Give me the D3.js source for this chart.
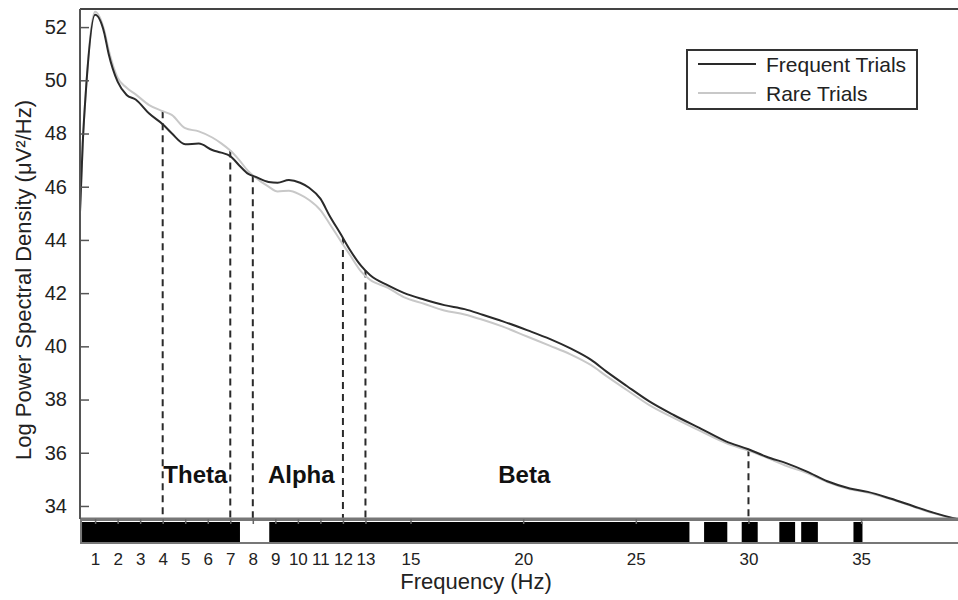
<!DOCTYPE html>
<html>
<head>
<meta charset="utf-8">
<script src="https://cdn.jsdelivr.net/npm/d3@7"></script>
<style>
  html, body { margin: 0; padding: 0; background: #fff; }
  svg { display: block; font-family: Arial, "Liberation Sans", Helvetica, sans-serif; }
</style>
</head>
<body>
<svg id="chart" width="958" height="600"></svg>
<script>
// ---------------- DATA ----------------
const frequencyHz = [0.33, 0.45, 0.6, 1.0, 1.4, 1.6, 2.0, 2.4, 2.8, 3.4, 4.0, 4.4, 5.0, 5.6, 6.2, 6.6, 7.0, 7.4, 7.8, 8.1, 8.7, 9.1, 9.6, 10.1, 10.5, 11.0, 11.4, 11.9, 12.3, 12.8, 13.2, 14.0, 14.7, 15.6, 16.5, 17.4, 18.2, 19.1, 20.2, 21.2, 22.1, 23.0, 23.7, 24.6, 25.6, 26.7, 27.9, 29.0, 30.0, 30.8, 31.7, 32.6, 33.5, 34.5, 35.3, 36.3, 37.3, 38.2, 39.1, 39.3];
const frequentTrials = [45.05, 47.6, 49.7, 52.46, 51.8, 51.0, 49.95, 49.45, 49.28, 48.75, 48.35, 48.01, 47.6, 47.62, 47.38, 47.28, 47.15, 46.8, 46.48, 46.38, 46.18, 46.15, 46.25, 46.15, 45.96, 45.55, 44.92, 44.22, 43.64, 43.03, 42.68, 42.29, 42.01, 41.76, 41.55, 41.4, 41.19, 40.94, 40.6, 40.27, 39.92, 39.5, 39.05, 38.51, 37.93, 37.41, 36.9, 36.43, 36.13, 35.85, 35.6, 35.29, 34.93, 34.66, 34.53, 34.28, 34.0, 33.75, 33.54, 33.5];
const rareTrials = [45.0, 47.6, 49.7, 52.58, 51.9, 51.15, 50.1, 49.72, 49.47, 49.07, 48.84, 48.7, 48.2, 48.08, 47.85, 47.63, 47.36, 47.0, 46.58, 46.36, 46.0, 45.82, 45.85, 45.7, 45.5, 45.12, 44.62, 43.96, 43.45, 42.82, 42.5, 42.2, 41.85, 41.6, 41.35, 41.2, 41.0, 40.74, 40.36, 40.02, 39.7, 39.3, 38.88, 38.36, 37.79, 37.3, 36.8, 36.36, 36.08, 35.82, 35.5, 35.24, 34.9, 34.63, 34.5, 34.26, 33.98, 33.73, 33.53, 33.5];

const seriesNames = ["Frequent Trials", "Rare Trials"];
const bandBoundariesHz = [4, 7, 8, 12, 13, 30];
const bandLabels = ["Theta", "Alpha", "Beta"];
const bandLabelCentersHz = [5.45, 10.15, 20.05];
// significance strip segments (start Hz, end Hz)
const sigStartHz = [0.42, 8.73, 28.03, 29.70, 31.37, 32.34, 34.66];
const sigEndHz   = [7.43, 27.38, 29.06, 30.41, 32.07, 33.08, 35.06];

const xTickValues = [1, 2, 3, 4, 5, 6, 7, 8, 9, 10, 11, 12, 13, 15, 20, 25, 30, 35];
const yTickValues = [34, 36, 38, 40, 42, 44, 46, 48, 50, 52];
const xDomain = [0.33, 39.3];
const yDomain = [33.51, 52.68];

// ---------------- LAYOUT ----------------
const svg = d3.select("#chart");
const plotLeft = 80, plotRight = 958, plotTop = 9, plotBottom = 519;
const stripTop = 520, stripBottom = 543;

const x = d3.scaleLinear().domain(xDomain).range([plotLeft, plotRight]);
const y = d3.scaleLinear().domain(yDomain).range([plotBottom, plotTop]);

const frequent = frequencyHz.map((f, i) => [f, frequentTrials[i]]);
const rare = frequencyHz.map((f, i) => [f, rareTrials[i]]);

const line = d3.line().x(d => x(d[0])).y(d => y(d[1])).curve(d3.curveMonotoneX);

function valueAt(series, hz) {
  for (let i = 0; i < series.length - 1; i++) {
    const a = series[i], b = series[i + 1];
    if (hz >= a[0] && hz <= b[0]) {
      const t = (hz - a[0]) / (b[0] - a[0]);
      return a[1] + t * (b[1] - a[1]);
    }
  }
  return series[series.length - 1][1];
}

svg.append("defs").append("clipPath").attr("id", "plotClip")
  .append("rect").attr("x", plotLeft).attr("y", plotTop).attr("width", plotRight - plotLeft).attr("height", plotBottom - plotTop);

// top border
svg.append("line").attr("x1", plotLeft).attr("x2", plotRight).attr("y1", plotTop).attr("y2", plotTop)
  .attr("stroke", "#444").attr("stroke-width", 2);

// band boundary dashed lines
svg.append("g").selectAll("line").data(bandBoundariesHz).join("line")
  .attr("x1", d => x(d)).attr("x2", d => x(d))
  .attr("y1", d => y(Math.max(valueAt(frequent, d), valueAt(rare, d))))
  .attr("y2", plotBottom)
  .attr("stroke", "#2a2a2a").attr("stroke-width", 2).attr("stroke-dasharray", "7,5");

// band labels
svg.append("g").selectAll("text").data(bandLabels).join("text")
  .attr("x", (d, i) => x(bandLabelCentersHz[i]))
  .attr("y", 483)
  .attr("text-anchor", "middle")
  .attr("font-size", 24).attr("font-weight", "bold").attr("fill", "#111")
  .text(d => d);

// curves
const curves = svg.append("g").attr("clip-path", "url(#plotClip)");
curves.append("path").datum(rare).attr("d", line)
  .attr("fill", "none").attr("stroke", "#c8c8c8").attr("stroke-width", 2);
curves.append("path").datum(frequent).attr("d", line)
  .attr("fill", "none").attr("stroke", "#2a2a2a").attr("stroke-width", 2);

// significance strip
svg.append("rect").attr("x", plotLeft + 1).attr("y", stripTop).attr("width", plotRight - plotLeft).attr("height", stripBottom - stripTop)
  .attr("fill", "#fff").attr("stroke", "#777").attr("stroke-width", 2);
svg.append("g").selectAll("rect").data(sigStartHz).join("rect")
  .attr("x", d => x(d))
  .attr("width", (d, i) => x(sigEndHz[i]) - x(d))
  .attr("y", stripTop + 2).attr("height", stripBottom - stripTop - 3)
  .attr("fill", "#000");

// x axis
const xAxis = d3.axisBottom(x).tickValues(xTickValues).tickSize(5).tickPadding(29).tickFormat(d3.format("d"));
const gx = svg.append("g").attr("transform", `translate(0,${plotBottom})`).call(xAxis);
gx.select(".domain").attr("stroke", "#777").attr("stroke-width", 3).attr("d", `M${plotLeft},0H${plotRight}`);
gx.selectAll(".tick line").attr("stroke", "#666").attr("stroke-width", 1.5);
gx.selectAll(".tick text").attr("font-size", 17).attr("fill", "#222").attr("font-family", "Arial, 'Liberation Sans', sans-serif");

// y axis (ticks inward)
const yAxis = d3.axisLeft(y).tickValues(yTickValues).tickSize(-9).tickPadding(13).tickFormat(d3.format("d"));
const gy = svg.append("g").attr("transform", `translate(${plotLeft},0)`).call(yAxis);
gy.select(".domain").attr("stroke", "#555").attr("stroke-width", 2).attr("d", `M0,${plotTop}V${plotBottom}`);
gy.selectAll(".tick line").attr("stroke", "#555").attr("stroke-width", 1.5);
gy.selectAll(".tick text").attr("font-size", 20).attr("fill", "#222").attr("font-family", "Arial, 'Liberation Sans', sans-serif");

// axis titles
svg.append("text").attr("x", 476).attr("y", 589).attr("text-anchor", "middle")
  .attr("font-size", 22).attr("fill", "#222").text("Frequency (Hz)");
svg.append("text").attr("transform", "translate(31,280) rotate(-90)").attr("text-anchor", "middle")
  .attr("font-size", 22).attr("fill", "#222").text("Log Power Spectral Density (μV²/Hz)");

// legend
const lg = svg.append("g");
lg.append("rect").attr("x", 687).attr("y", 50).attr("width", 230).attr("height", 59)
  .attr("fill", "#fff").attr("stroke", "#333").attr("stroke-width", 2);
const legendColors = ["#2a2a2a", "#c8c8c8"];
const legendY = [64, 93];
seriesNames.forEach((name, i) => {
  lg.append("line").attr("x1", 698).attr("x2", 756).attr("y1", legendY[i]).attr("y2", legendY[i])
    .attr("stroke", legendColors[i]).attr("stroke-width", 2);
  lg.append("text").attr("x", 766).attr("y", legendY[i] + 8).attr("font-size", 21).attr("fill", "#222").text(name);
});
</script>
</body>
</html>
